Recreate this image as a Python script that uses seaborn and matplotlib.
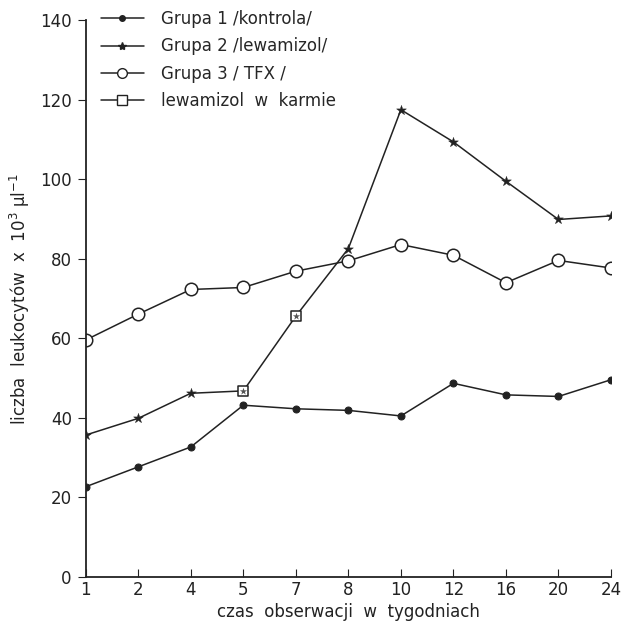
import numpy as np
import matplotlib
matplotlib.use("Agg")
import matplotlib.pyplot as plt
from matplotlib.lines import Line2D
import seaborn as sns

# weeks of observation (plotted at equal spacing)
weeks = ["1", "2", "4", "5", "7", "8", "10", "12", "16", "20", "24"]

grupa1 = [22.7, 27.7, 32.7, 43.2, 42.3, 41.9, 40.5, 48.7, 45.8, 45.4, 49.6]
grupa2 = [35.7, 39.9, 46.2, 46.8, 65.6, 82.6, 117.5, 109.4, 99.5, 89.9, 90.8]
grupa3 = [59.6, 66.1, 72.3, 72.8, 76.9, 79.5, 83.6, 80.9, 74.0, 79.6, 77.7]

# points of group 2 where lewamizol was given in feed
karmie_weeks = ["5", "7"]

labels = ["Grupa 1 /kontrola/", "Grupa 2 /lewamizol/", "Grupa 3 / TFX /", "lewamizol  w  karmie"]

sns.set_style("ticks")
plt.rcParams["font.family"] = ["DejaVu Sans"]

fig = plt.figure(figsize=(6.26, 6.32), dpi=100)
ax = fig.add_axes([0.137, 0.087, 0.839, 0.881])

x = np.arange(len(weeks))
is_karmie = np.array([w in karmie_weeks for w in weeks])
g2 = np.array(grupa2)
ink = "#222222"
lw = 1.1

sns.lineplot(x=x, y=grupa1, ax=ax, color=ink, lw=lw, marker="o", markersize=5,
             markerfacecolor=ink, markeredgecolor=ink)
sns.lineplot(x=x, y=grupa2, ax=ax, color=ink, lw=lw)
sns.scatterplot(x=x[~is_karmie], y=g2[~is_karmie], ax=ax, color=ink, marker="*", s=55,
                linewidth=0.3, edgecolor=ink, zorder=4)
# feed points: open square with a small star inside
sns.scatterplot(x=x[is_karmie], y=g2[is_karmie], ax=ax, color="white", marker="s", s=60,
                linewidth=1.1, edgecolor=ink, zorder=4)
sns.scatterplot(x=x[is_karmie], y=g2[is_karmie], ax=ax, color="#555555", marker="*", s=30,
                linewidth=0, zorder=5)
sns.lineplot(x=x, y=grupa3, ax=ax, color=ink, lw=lw, marker="o", markersize=9,
             markerfacecolor="white", markeredgecolor=ink, markeredgewidth=1.1)

handles = [
    Line2D([], [], color=ink, lw=lw, marker="o", markersize=4, markerfacecolor=ink),
    Line2D([], [], color=ink, lw=lw, marker="*", markersize=6, markerfacecolor=ink),
    Line2D([], [], color=ink, lw=lw, marker="o", markersize=7, markerfacecolor="white"),
    Line2D([], [], color=ink, lw=lw, marker="s", markersize=7, markerfacecolor="white"),
]
ax.legend(handles, labels, loc="upper left", bbox_to_anchor=(0.0, 1.045), frameon=False,
          fontsize=12, handlelength=2.6, labelspacing=0.55, handletextpad=1.0)

ax.set_xlim(0, len(weeks) - 1)
ax.set_ylim(0, 140)
ax.set_xticks(x)
ax.set_xticklabels(weeks)
ax.set_yticks(np.arange(0, 141, 20))
ax.tick_params(axis="x", direction="in", length=6, labelsize=12, pad=3, color=ink)
ax.tick_params(axis="y", direction="out", length=6, labelsize=12, pad=4, color=ink)
ax.tick_params(labelcolor=ink)

sns.despine(ax=ax)
for s in ["left", "bottom"]:
    ax.spines[s].set_linewidth(1.3)
    ax.spines[s].set_color(ink)

ax.set_xlabel("czas  obserwacji  w  tygodniach", fontsize=12, color=ink, labelpad=3)
ax.set_ylabel(r"liczba  leukocytów  x  10$^3$ μl$^{-1}$", fontsize=12, color=ink, labelpad=6)

fig.savefig("out.png", dpi=100)
